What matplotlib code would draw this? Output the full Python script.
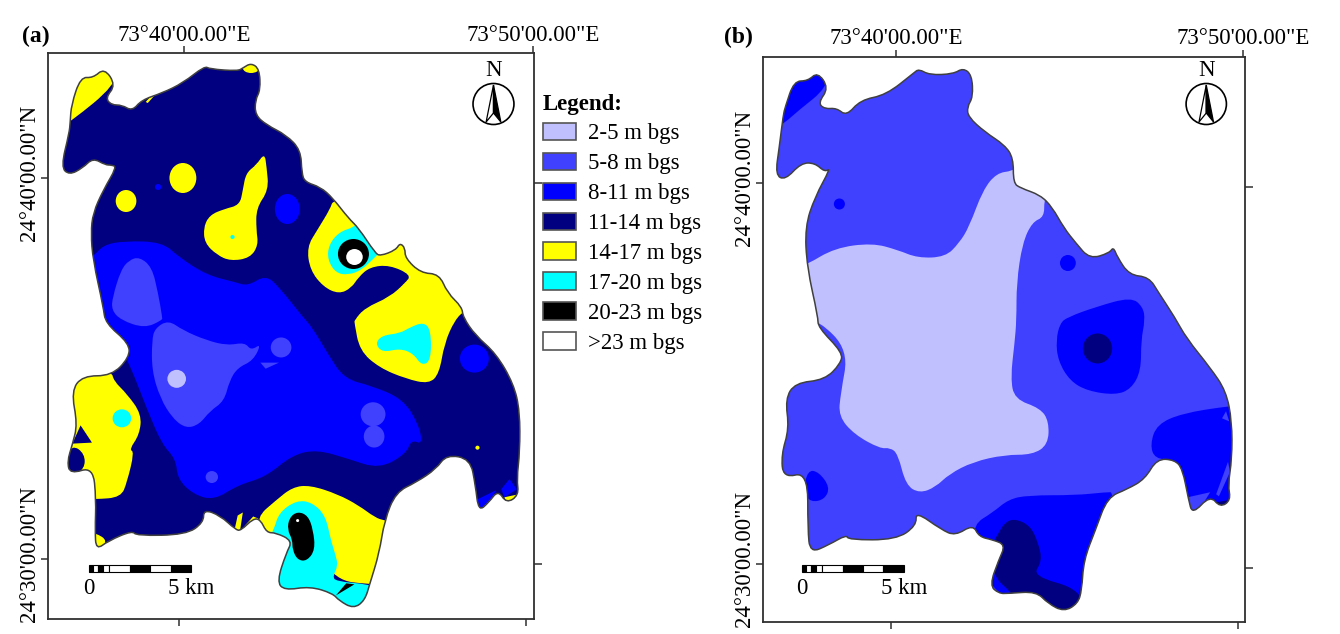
'''
Depth to water maps, panels (a) and (b), outlines digitised off the scanned maps
'''

#%%
import matplotlib
matplotlib.use('Agg')
import matplotlib.pyplot as plt
from matplotlib.patches import Polygon, Ellipse, Patch, PathPatch
from matplotlib.path import Path
from matplotlib.transforms import ScaledTranslation

plt.rcParams['font.family'] = ['Liberation Serif', 'DejaVu Serif']

c_2_5 = '#c0c0ff'
c_5_8 = '#4040ff'
c_8_11 = '#0000ff'
c_11_14 = '#000080'
c_14_17 = '#ffff00'
c_17_20 = '#00ffff'
c_20_23 = '#000000'
c_23 = '#ffffff'

legend_labels = ['2-5 m bgs', '5-8 m bgs', '8-11 m bgs', '11-14 m bgs',
                 '14-17 m bgs', '17-20 m bgs', '20-23 m bgs', '>23 m bgs']
legend_colors = [c_2_5, c_5_8, c_8_11, c_11_14, c_14_17, c_17_20, c_20_23, c_23]

lon_labels = ['73°40\'00.00"E', '73°50\'00.00"E']
lat_labels = ['24°40\'00.00"N', '24°30\'00.00"N']

# scale bar segments (km)
bar_km = [0, 0.2, 0.45, 0.7, 1, 2, 3, 4]
bar_len = [0.2, 0.25, 0.25, 0.3, 1, 1, 1, 1]
bar_col = ['k', 'w', 'k', 'w', 'w', 'k', 'w', 'k']

#%% panel (a), digitised map units
a_outline = [(68,122),(69,105),(78,77),(90,78),(101,68),(112,85),(102,98),(108,105),(118,105),(128,111),
    (137,100),(157,93),(177,83),(198,66),(203,69),(230,71),(235,68),(243,63),(251,69),(252,90),(247,100),
    (247,115),(258,125),(277,135),(291,150),(292,173),(295,182),(310,187),(322,198),(337,218),(347,228),
    (363,253),(368,256),(383,250),(387,243),(392,248),(392,258),(407,273),(425,274),(433,293),(447,307),
    (448,317),(460,335),(480,353),(497,383),(503,410),(503,450),(500,477),(502,493),(490,501),(482,488),
    (473,500),(463,509),(460,483),(455,457),(432,453),(422,467),(403,480),(383,490),(372,518),(367,550),
    (358,580),(353,597),(342,605),(328,597),(322,590),(300,583),(275,587),(268,578),(277,550),(283,538),
    (267,530),(258,530),(252,517),(245,516),(233,528),(228,527),(213,513),(197,507),(197,520),(180,532),
    (132,533),(128,528),(105,538),(93,547),(92,528),(93,497),(90,465),(68,472),(65,460),(70,443),(75,423),
    (69,390),(80,375),(108,375),(125,357),(125,343),(102,323),(100,307),(90,260),(88,233),(90,213),(100,190),
    (113,167),(108,165),(102,165),(90,158),(80,168),(67,175),(59,167),(67,133)]
a_blue_main = [(80,257),(90,257),(100,245),(120,241),(157,242),(173,257),(200,275),(227,282),(240,286),(257,275),
    (270,287),(293,317),(302,327),(317,353),(333,378),(360,385),(390,398),(405,423),(409,443),(398,438),
    (393,452),(367,467),(337,457),(307,448),(283,453),(257,475),(230,483),(207,498),(187,492),(172,477),
    (170,457),(157,443),(143,410),(123,357),(102,323),(85,300)]
a_peri_1 = [(135,257),(147,267),(153,293),(157,317),(157,320),(140,328),(117,320),(108,310),(109,297),(117,270),(125,260)]
a_peri_2 = [(163,320),(177,330),(200,340),(220,345),(237,342),(243,350),(253,343),(245,360),(230,367),(222,380),
    (217,400),(203,410),(193,423),(180,427),(167,417),(155,397),(147,370),(147,340),(150,328)]
a_peri_3 = [(252,362),(270,362),(257,368)]
a_yellow_nw = [(60,125),(68,122),(112,85),(115,60),(60,60)]
a_yellow_sliver = [(143,103),(150,95),(147,95),(141,102)]
a_yellow_gourd = [(256,153),(258,167),(260,190),(248,208),(248,230),(250,245),(242,258),(223,261),(210,255),(198,243),
    (197,227),(203,215),(217,209),(232,205),(235,190),(238,173),(248,165)]
a_yellow_ne = [(322,200),(320,208),(307,230),(297,247),(300,270),(313,287),(328,294),(340,288),(347,277),(358,267),
    (377,265),(398,275),(392,283),(377,297),(353,308),(343,320),(343,323),(348,350),(367,367),(393,378),
    (415,383),(425,373),(430,343),(440,320),(450,310),(470,300),(420,230),(360,190)]
a_cyan_ne = [(343,227),(328,232),(318,245),(317,260),(325,273),(337,275),(350,270),(362,258),(370,250),(350,220)]
a_cyan_lobe = [(410,322),(417,330),(417,360),(408,365),(400,353),(387,348),(370,352),(363,343),(370,335),(387,333),(397,327)]
a_yellow_sw = [(108,370),(110,380),(123,393),(137,413),(135,433),(125,448),(130,450),(123,480),(117,495),(93,497),(60,497),(60,370)]
a_navy_sw1 = [(78,424),(89,441),(70,442)]
a_navy_sw2 = [(70,443),(82,452),(82,467),(68,475),(60,460)]
a_yellow_tip = [(92,530),(105,538),(93,550),(85,550),(85,530)]
a_blue_se1 = [(462,497),(480,488),(473,502),(463,512)]
a_blue_se2 = [(493,477),(500,487),(488,495),(485,487)]
a_yellow_se = [(488,495),(502,492),(506,497),(492,504)]
a_yellow_s1 = [(230,513),(235,510),(232,530),(227,527)]
a_yellow_s2 = [(237,523),(245,514),(250,516),(234,530)]
a_yellow_s = [(248,515),(267,498),(283,485),(300,483),(327,492),(347,503),(363,515),(372,518),(385,520),(375,581),
    (358,581),(325,577),(300,540),(255,535)]
a_cyan_s = [(265,527),(270,510),(287,498),(302,500),(315,513),(320,537),(325,553),(327,563),(322,573),(325,578),
    (357,581),(365,585),(355,615),(260,600),(260,535)]
a_black_s = [(288,509),(298,513),(303,527),(305,547),(297,558),(288,557),(283,547),(283,537),(278,527),(280,515)]
a_black_wedge = [(325,592),(335,580),(343,581)]

# round patches: centre x, centre y, half width, half height
a_peri_spots = [(272,347,10,10),(361,413,12,12),(362,435,10,11),(205,475,6,6)]
a_light_spots = [(171,378,9,9)]
a_yellow_spots = [(243,68,8,5),(177,178,13,15),(122,201,10,11),(462,446,2,2)]
a_blue_spots = [(153,187,3,3),(278,209,12,15),(459,358,14,14)]
a_cyan_spots = [(118,417,9,9),(225,237,2,2)]
a_black_spots = [(342,254,15,15)]
a_white_spots = [(343,257,8,8),(288,518,1.5,1.5)]

a_frame = [46, 516.7, 619, 53.3]
a_top_ticks = [178, 515.7]
a_bot_ticks = [173, 509.3]
a_left_ticks = [178, 556]
a_right_ticks = [183, 561]

#%% panel (b), digitised map units
b_outline = [(160,115),(165,107),(187,81),(222,81),(247,72),(275,88),(248,103),(265,109),(295,108),(320,116),
    (355,100),(420,95),(490,73),(503,69),(530,75),(590,74),(615,68),(637,75),(640,97),(625,107),(628,117),
    (670,132),(720,145),(742,158),(742,183),(760,188),(810,195),(840,207),(870,228),(900,243),(935,259),
    (985,253),(995,247),(1005,257),(1035,275),(1085,277),(1110,293),(1150,317),(1180,338),(1240,367),
    (1280,390),(1295,420),(1295,457),(1285,483),(1292,498),(1265,505),(1240,493),(1195,512),(1185,497),
    (1170,467),(1150,458),(1105,457),(1075,477),(1030,487),(980,495),(950,527),(920,557),(915,587),(905,600),
    (870,608),(830,600),(800,588),(730,590),(705,590),(682,582),(705,557),(722,542),(690,537),(655,534),
    (640,522),(595,533),(560,527),(495,509),(497,523),(445,537),(325,537),(320,532),(275,542),(228,550),
    (222,527),(222,470),(160,476),(155,453),(175,427),(165,398),(190,382),(265,379),(305,363),(310,352),
    (248,327),(248,317),(220,267),(215,227),(240,197),(280,168),(265,172),(240,163),(205,163),(165,180),
    (140,175),(150,147)]
b_light = [(200,265),(218,265),(290,248),(385,243),(450,250),(500,258),(570,257),(605,243),(630,227),(665,190),
    (700,173),(740,171),(760,165),(830,190),(820,200),(820,217),(790,222),(765,243),(750,283),(750,320),
    (745,343),(735,377),(745,398),(810,407),(832,420),(830,443),(790,453),(720,453),(640,460),(580,472),
    (545,485),(505,491),(470,483),(450,452),(430,446),(405,447),(340,433),(300,415),(305,393),(325,350),
    (250,320),(200,320)]
b_blue_nw = [(150,125),(163,123),(200,110),(270,88),(285,60),(150,60)]
b_blue_mid = [(880,317),(950,307),(1040,297),(1070,307),(1075,320),(1065,340),(1065,370),(1040,388),(1000,394),
    (930,390),(885,380),(855,360),(850,340),(860,323)]
b_blue_sw = [(222,468),(250,470),(278,485),(265,497),(230,500),(210,490)]
b_blue_se = [(1105,423),(1170,412),(1285,405),(1310,405),(1310,520),(1180,520),(1150,458),(1100,457),(1088,443)]
b_peri_se1 = [(1183,495),(1240,490),(1200,515),(1185,515)]
b_peri_se2 = [(1255,492),(1285,460),(1290,470),(1262,494)]
b_peri_se3 = [(1270,417),(1280,410),(1288,420)]
b_navy_se = [(1255,500),(1296,497),(1270,507)]
b_blue_s = [(640,522),(690,510),(730,497),(780,493),(900,493),(975,490),(1000,490),(960,600),(700,600),(650,545)]
b_navy_s = [(745,516),(785,523),(805,540),(815,558),(790,573),(915,586),(930,620),(800,620),(735,588),(690,573),
    (690,540),(705,530),(720,520)]

b_blue_spots = [(302,204,14,5.5),(880,263,20,8)]
b_navy_spots = [(955,348,37,15)]

b_frame = [108, 1328, 622, 56.7]
b_top_ticks = [445, 1323]
b_bot_ticks = [433, 1311]
b_left_ticks = [183, 561]
b_right_ticks = [187, 565]

#%%
def fix_y(pts):
    # lower half of the readings was taken at a slightly different scale
    return [(x, y + max(y-310, 0)*0.0123) for x, y in pts]

def fix_v(vals):
    return [p[1] for p in fix_y([(0, v) for v in vals])]

def round_path(pts):
    pts = fix_y(pts)
    n = len(pts)
    if n < 5:
        return Path(pts + pts[:1], closed=True)
    mid = [((pts[i][0]+pts[(i+1) % n][0])/2, (pts[i][1]+pts[(i+1) % n][1])/2) for i in range(n)]
    verts = [mid[-1]]
    codes = [Path.MOVETO]
    for i in range(n):
        verts += [pts[i], mid[i]]
        codes += [Path.CURVE3, Path.CURVE3]
    return Path(verts, codes)

def fill(ax, clip, pts, color):
    p = PathPatch(round_path(pts), fc=color, ec='none', zorder=2)
    ax.add_patch(p)
    p.set_clip_path(clip)

def spots(ax, clip, items, color):
    for x, y, rx, ry in items:
        e = Ellipse(fix_y([(x, y)])[0], 2*rx, 2*ry, fc=color, ec='none', zorder=3)
        ax.add_patch(e)
        e.set_clip_path(clip)

def setup(box, frame, top, bot, left, right, outline, base):
    ax = fig.add_axes([box[0]/1340, 1-box[3]/634, (box[1]-box[0])/1340, (box[3]-box[2])/634])
    ax.set_xlim(frame[0], frame[1])
    ax.set_ylim(frame[2], frame[3])
    for s in ax.spines.values():
        s.set_color('#303030')
        s.set_linewidth(1.3)
    ax.set_xticks(bot, ['', ''])
    ax.set_yticks(fix_v(left), lat_labels, rotation=90, va='center', fontsize=16.5)
    ax.tick_params(axis='both', length=5, width=1.1, color='#303030', pad=0.5)
    up = ScaledTranslation(0, 3.5/72, fig.dpi_scale_trans)
    for lab in ax.get_yticklabels():
        lab.set_transform(lab.get_transform() + up)
    sx = ax.secondary_xaxis('top')
    sx.set_xticks(top, lon_labels, fontsize=16.5)
    sx.tick_params(length=5, width=1.1, color='#303030', pad=0.5)
    sy = ax.secondary_yaxis('right')
    sy.set_yticks(fix_v(right), ['', ''])
    sy.tick_params(length=6, width=1.1, color='#303030')
    for a in (sx, sy):
        for s in a.spines.values():
            s.set_visible(False)
    shape = PathPatch(round_path(outline), fc=base, ec='none', zorder=1)
    ax.add_patch(shape)
    edge = PathPatch(round_path(outline), fc='none', ec='#404040', lw=1.1, zorder=6)
    ax.add_patch(edge)
    return ax, shape

def north(ax, x, rx):
    ax.text(x, 71, 'N', ha='center', va='center', fontsize=16.5, zorder=7)
    ax.add_patch(Ellipse((x, 104), 2*rx, 41, fc='white', ec='k', lw=1.2, zorder=7))
    w = rx*0.36
    ax.add_patch(Polygon([(x, 85), (x-w, 122), (x, 113)], fc='white', ec='k', lw=0.9, zorder=8))
    ax.add_patch(Polygon([(x, 85), (x+w, 122), (x, 113)], fc='k', ec='k', lw=0.9, zorder=8))

def scale_bar(ax, x0, km, y0, y1, ytext):
    y0, y1, ytext = fix_v([y0, y1, ytext])
    ax.barh((y0+y1)/2, [n*km for n in bar_len], y1-y0, left=[x0+n*km for n in bar_km],
            color=bar_col, edgecolor='k', lw=0.8, zorder=7)
    ax.text(x0, ytext, '0', ha='center', va='center', fontsize=16.5, zorder=7)
    ax.text(x0+5*km, ytext, '5 km', ha='center', va='center', fontsize=16.5, zorder=7)

fig = plt.figure(figsize=(13.4, 6.34), dpi=100)

#%% (a)
ax1, clip1 = setup([47.5, 534, 53.3, 619], a_frame, a_top_ticks, a_bot_ticks, a_left_ticks, a_right_ticks,
                   a_outline, c_11_14)
fill(ax1, clip1, a_blue_main, c_8_11)
fill(ax1, clip1, a_peri_1, c_5_8)
fill(ax1, clip1, a_peri_2, c_5_8)
fill(ax1, clip1, a_peri_3, c_5_8)
fill(ax1, clip1, a_yellow_nw, c_14_17)
fill(ax1, clip1, a_yellow_sliver, c_14_17)
fill(ax1, clip1, a_yellow_gourd, c_14_17)
fill(ax1, clip1, a_yellow_ne, c_14_17)
fill(ax1, clip1, a_cyan_ne, c_17_20)
fill(ax1, clip1, a_cyan_lobe, c_17_20)
fill(ax1, clip1, a_yellow_sw, c_14_17)
fill(ax1, clip1, a_navy_sw1, c_11_14)
fill(ax1, clip1, a_navy_sw2, c_11_14)
fill(ax1, clip1, a_yellow_tip, c_14_17)
fill(ax1, clip1, a_blue_se1, c_8_11)
fill(ax1, clip1, a_blue_se2, c_8_11)
fill(ax1, clip1, a_yellow_se, c_14_17)
fill(ax1, clip1, a_yellow_s1, c_14_17)
fill(ax1, clip1, a_yellow_s2, c_14_17)
fill(ax1, clip1, a_yellow_s, c_14_17)
fill(ax1, clip1, a_cyan_s, c_17_20)
fill(ax1, clip1, a_black_s, c_20_23)
fill(ax1, clip1, a_black_wedge, c_20_23)
spots(ax1, clip1, a_peri_spots, c_5_8)
spots(ax1, clip1, a_light_spots, c_2_5)
spots(ax1, clip1, a_yellow_spots, c_14_17)
spots(ax1, clip1, a_blue_spots, c_8_11)
spots(ax1, clip1, a_cyan_spots, c_17_20)
spots(ax1, clip1, a_black_spots, c_20_23)
spots(ax1, clip1, a_white_spots, c_23)
north(ax1, 477.5, 19.8)
scale_bar(ax1, 85.7, 19.9, 562, 569, 585)

#%% (b)
ax2, clip2 = setup([762.7, 1245, 56.7, 622], b_frame, b_top_ticks, b_bot_ticks, b_left_ticks, b_right_ticks,
                   b_outline, c_5_8)
fill(ax2, clip2, b_light, c_2_5)
fill(ax2, clip2, b_blue_nw, c_8_11)
fill(ax2, clip2, b_blue_mid, c_8_11)
fill(ax2, clip2, b_blue_sw, c_8_11)
fill(ax2, clip2, b_blue_se, c_8_11)
fill(ax2, clip2, b_peri_se1, c_5_8)
fill(ax2, clip2, b_peri_se2, c_5_8)
fill(ax2, clip2, b_peri_se3, c_5_8)
fill(ax2, clip2, b_navy_se, c_11_14)
fill(ax2, clip2, b_blue_s, c_8_11)
fill(ax2, clip2, b_navy_s, c_11_14)
spots(ax2, clip2, b_blue_spots, c_8_11)
spots(ax2, clip2, b_navy_spots, c_11_14)
north(ax2, 1230, 51)
scale_bar(ax2, 207, 51.6, 562, 569, 585)

fig.text(22/1340, 1-36/634, '(a)', fontsize=17, fontweight='bold', va='center')
fig.text(724/1340, 1-37/634, '(b)', fontsize=17, fontweight='bold', va='center')

handles = [Patch(fc=c, ec='#555555', lw=1.2) for c in legend_colors]
leg = fig.legend(handles, legend_labels, title='Legend:', loc='upper left', bbox_to_anchor=(538/1340, 1-89/634),
                 frameon=False, fontsize=16.5, handlelength=1.45, handleheight=0.79, handletextpad=0.55,
                 labelspacing=0.36, borderaxespad=0, borderpad=0.2, alignment='left',
                 title_fontproperties={'size': 16.5, 'weight': 'bold'})

fig.savefig('out.png', dpi=100)
